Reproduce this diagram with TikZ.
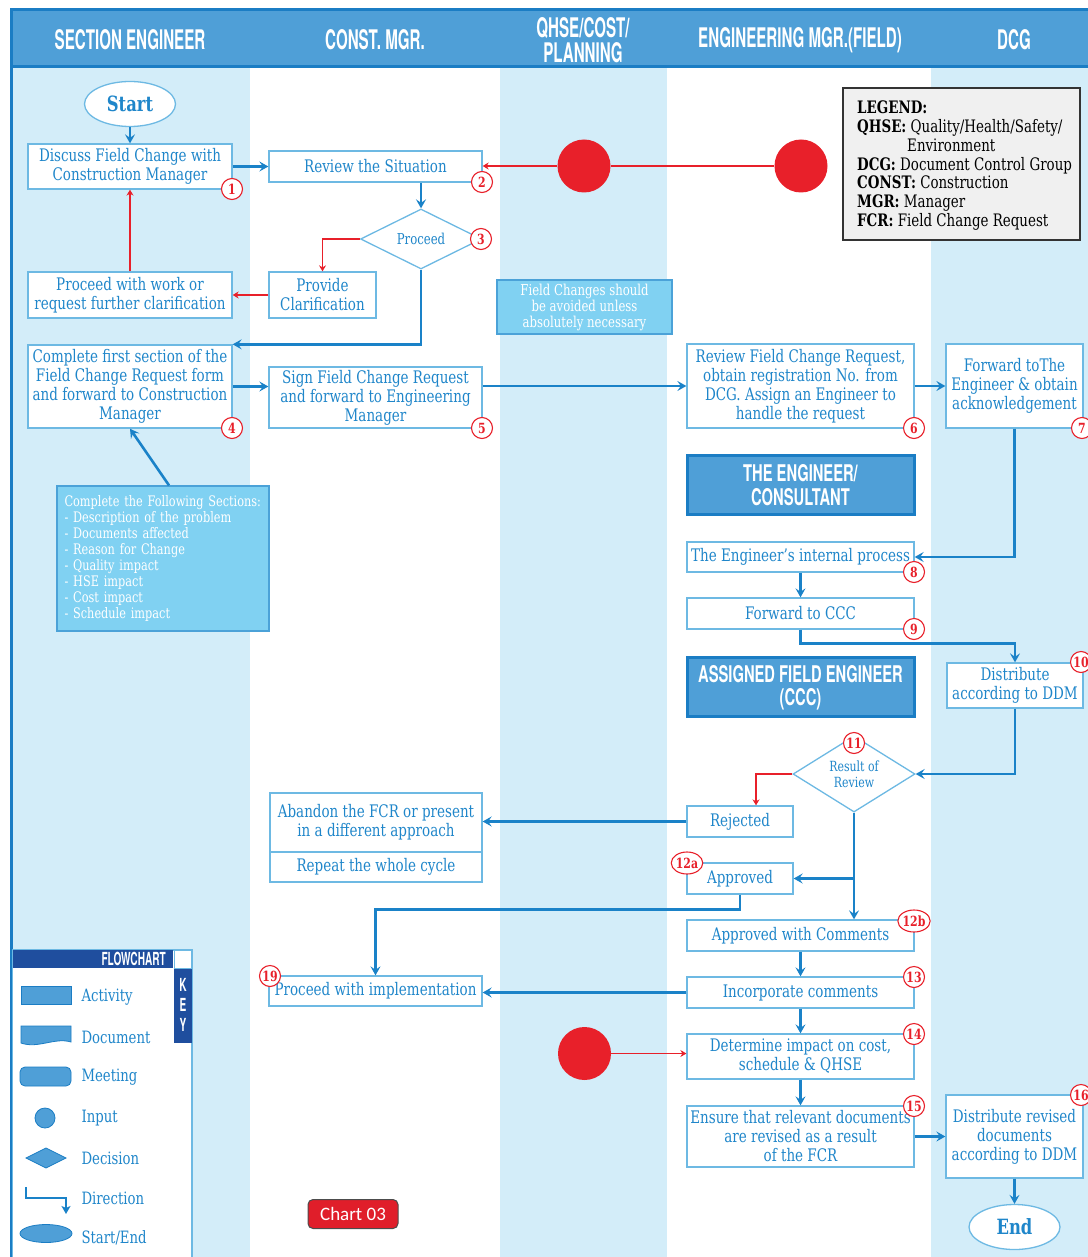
\documentclass[tikz,border=0pt]{standalone}
\usepackage{fontspec}
\usetikzlibrary{arrows.meta,shapes.geometric,calc}
\setmainfont{DejaVu Serif}[FakeStretch=0.78]
\newfontfamily\hdrfont{TeX Gyre Heros}[FakeStretch=0.56]
\newfontfamily\hdbfont{TeX Gyre Heros}[FakeStretch=0.64]
\newfontfamily\chartfont{Carlito}
\definecolor{hdrblue}{HTML}{4F9FD7}
\definecolor{hdrline}{HTML}{1B7DC4}
\definecolor{lane}{HTML}{D3EDF9}
\definecolor{tblue}{HTML}{1F86CA}
\definecolor{bline}{HTML}{6DB9E3}
\definecolor{ablue}{HTML}{1A82C8}
\definecolor{fred}{HTML}{E8202A}
\definecolor{nfill}{HTML}{80D1F2}
\definecolor{nline}{HTML}{4BA2D8}
\definecolor{kdark}{HTML}{1F4E9E}
\definecolor{kshape}{HTML}{4F9FD7}
\definecolor{legfill}{HTML}{F0F0F0}
\definecolor{cred}{HTML}{E01E2A}
\newcommand\flowbox[7][]{\node[bx,#1,minimum width={#5-#3},minimum height={#6-#4}] (#2) at ({(#3+#5)/2},{(#4+#6)/2}) {#7};}
\tikzset{
 bx/.style={draw=bline, line width=1.3pt, fill=white, text=tblue, align=center, inner sep=1pt, font=\fontsize{17.3}{19}\selectfont},
 dia/.style={diamond, draw=bline, line width=1.3pt, fill=white, text=tblue, align=center, inner sep=0pt},
 num/.style={circle, draw=fred, line width=1.1pt, fill=white, text=fred, inner sep=0pt, minimum size=21pt, font=\bfseries\fontsize{14}{14}\selectfont},
 numw/.style={ellipse, draw=fred, line width=1.1pt, fill=white, text=fred, inner sep=0pt, minimum width=30pt, minimum height=22pt, font=\bfseries\fontsize{14}{14}\selectfont},
 conn/.style={draw=ablue, line width=2.6pt, -{Stealth[length=9pt,width=10pt,inset=3.5pt]}},
 rconn/.style={draw=fred, line width=1.8pt, -{Stealth[length=6pt,width=7pt,inset=2pt]}},
 redin/.style={circle, fill=fred, minimum size=53pt, inner sep=0pt},
 hd/.style={fill=hdrblue, draw=hdrline, line width=3pt, text=white, align=center, inner sep=0pt},
 hdl/.style={text=white, inner sep=0pt, font=\hdbfont\bfseries\fontsize{23}{23}\selectfont},
 htext/.style={text=white, align=center, inner sep=0pt, font=\hdrfont\bfseries\fontsize{27}{27}\selectfont},
 se/.style={ellipse, draw=bline, line width=1.3pt, fill=white, text=tblue, inner sep=0pt, minimum width=91pt, minimum height=45pt, font=\bfseries\fontsize{21}{21}\selectfont},
 nt/.style={fill=nfill, draw=nline, line width=1.3pt, text=white},
 kshp/.style={fill=kshape, draw=hdrline, line width=0.8pt},
 klab/.style={anchor=west, text=tblue, font=\fontsize{17}{17}\selectfont},
}
\begin{document}
\begin{tikzpicture}[x=1pt,y=-1pt]
\useasboundingbox (0,0) rectangle (1087,1257);
% lanes
\fill[lane] (12,68) rectangle (250,1262);
\fill[lane] (500,68) rectangle (667,1262);
\fill[lane] (931,68) rectangle (1090,1262);
% header
\fill[hdrblue] (10,10) rectangle (1090,68);
\draw[hdrline, line width=3pt] (10,10) -- (1090,10);
\draw[hdrline, line width=3pt] (10,67) -- (1090,67);
\draw[hdrline, line width=3pt] (11,9) -- (11,1262);
\node[htext] (h1) at (130,40) {SECTION ENGINEER};
\node[htext] (h2) at (375,40) {CONST. MGR.};
\node[htext] (h3a) at (583,28) {QHSE/COST/};
\node[htext] (h3b) at (583,53) {PLANNING};
\node[htext] (h4) at (800,40) {ENGINEERING MGR.(FIELD)};
\node[htext] (h5) at (1014,40) {DCG};

% legend
\node[draw=black!80, fill=legfill, line width=1.8pt, minimum width=237pt, minimum height=152pt] (leg) at (961.5,164) {};
\node[anchor=north west, align=left, inner sep=0pt, text=black, font=\fontsize{17.2}{18.7}\selectfont] (legt) at (857,101) {\textbf{LEGEND:}\\ \textbf{QHSE:} Quality/Health/Safety/\\ \hspace*{50pt}Environment\\ \textbf{DCG:} Document Control Group\\ \textbf{CONST:} Construction\\ \textbf{MGR:} Manager\\ \textbf{FCR:} Field Change Request};

% Section engineer lane
\node[se] (start) at (130,104) {Start};
\flowbox{b1}{28}{144}{232}{189}{Discuss Field Change with\\Construction Manager}
\flowbox{pww}{28}{272}{232}{318}{Proceed with work or\\request further clarification}
\flowbox{b4}{28}{345}{232}{428}{Complete first section of the\\Field Change Request form\\and forward to Construction\\Manager}
\node[nt, minimum width=212pt, minimum height=145pt, text width=197pt, inner xsep=7.5pt, align=left, font=\fontsize{14.5}{16}\selectfont] (sect) at (163,558.5) {Complete the Following Sections:\\- Description of the problem\\- Documents affected\\- Reason for Change\\- Quality impact\\- HSE impact\\- Cost impact\\- Schedule impact};

% Const mgr lane
\flowbox{b2}{269}{151}{482}{182}{Review the Situation}
\node[dia, minimum width=121pt, minimum height=59pt, font=\fontsize{15}{16}\selectfont] (d1) at (421,239) {Proceed};
\flowbox{prov}{269}{272}{376}{318}{Provide\\Clarification}
\flowbox{b5}{269}{367}{482}{428}{Sign Field Change Request\\and forward to Engineering\\Manager}
\flowbox{ab}{270}{793}{482}{852}{Abandon the FCR or present\\in a different approach}
\flowbox{rep}{270}{852}{482}{882}{Repeat the whole cycle}
\flowbox{pimpl}{269}{976}{482}{1006}{Proceed with implementation}

% QHSE lane
\node[nt, minimum width=175pt, minimum height=54pt, align=center, font=\fontsize{15}{16}\selectfont] (fcn) at (584.5,307) {Field Changes should\\be avoided unless\\absolutely necessary};
\node[redin] (rc1) at (584,166) {};
\node[redin] (rc2) at (801,166) {};
\node[redin] (rc3) at (584.5,1053.5) {};

% Engineering mgr lane
\flowbox{b6}{687}{344}{914}{428}{Review Field Change Request,\\obtain registration No. from\\DCG. Assign an Engineer to\\handle the request}
\node[hd, minimum width=227pt, minimum height=59pt] (hd1) at (800.5,485) {};
\node[hdl] (hd1a) at (800.5,473) {THE ENGINEER/};
\node[hdl] (hd1b) at (800.5,497.5) {CONSULTANT};
\flowbox{b8}{687}{542}{914}{572}{The Engineer’s internal process}
\flowbox{b9}{687}{598}{914}{629}{Forward to CCC}
\node[hd, minimum width=227pt, minimum height=59pt] (hd2) at (800.5,686.5) {};
\node[hdl] (hd2a) at (800.5,674.5) {ASSIGNED FIELD ENGINEER};
\node[hdl] (hd2b) at (800.5,699.5) {(CCC)};
\node[dia, minimum width=122pt, minimum height=58pt, font=\fontsize{14}{16}\selectfont] (d2) at (854,774) {Result of\\Review};
\flowbox{rej}{687}{806}{793}{837}{Rejected}
\flowbox{appr}{687}{863}{793}{894}{Approved}
\flowbox{awc}{687}{920}{914}{951}{Approved with Comments}
\flowbox{inc}{687}{977}{914}{1008}{Incorporate comments}
\flowbox{b14}{687}{1034}{914}{1079}{Determine impact on cost,\\schedule \& QHSE}
\flowbox{b15}{687}{1106}{914}{1167}{Ensure that relevant documents\\are revised as a result\\of the FCR}

% DCG lane
\flowbox{b7}{946}{344}{1083}{428}{Forward toThe\\Engineer \& obtain\\acknowledgement}
\flowbox{b10}{947}{663}{1083}{708}{Distribute\\according to DDM}
\flowbox{b16}{946}{1095}{1083}{1178}{Distribute revised\\documents\\according to DDM}
\node[se] (end) at (1014.5,1227) {End};

% connectors
\draw[conn] (start.south) -- (b1.north);
\draw[conn] (b1.east) -- (b1.east -| b2.west);
\draw[conn] (b2.south -| d1.north) -- (d1.north);
\draw[rconn] (d1.west) -| (prov.north);
\draw[rconn] (prov.west) -- (prov.west -| pww.east);
\draw[rconn] (pww.north) -- (b1.south);
\draw[conn] (d1.south) |- (b4.north east);
\draw[conn] (b4.east) -- (b4.east -| b5.west);
\draw[conn] (b5.east |- b6.west) -- (b6.west);
\draw[conn] (b6.east) -- (b6.east -| b7.west);
\draw[conn] ([xshift=6pt]sect.north) -- (b4.south);
\draw[fred, line width=1.8pt] (rc2.west) -- (rc1.east);
\draw[rconn] (rc1.west) -- (rc1.west -| b2.east);
\draw[conn] (b7.south) |- (b8.east);
\draw[conn] (b8.south) -- (b9.north);
\draw[conn] (b9.south) -- ++(0,14) -| (b10.north);
\draw[conn] (b10.south) |- (d2.east);
\draw[rconn] (d2.west) -| ([xshift=16pt]rej.north);
\draw[conn] (rej.west) -- (rej.west -| ab.east);
\draw[conn] (d2.south) -- (d2.south |- awc.north);
\draw[conn] (d2.south |- appr.east) -- (appr.east);
\draw[conn] (appr.south) -- ++(0,15) -| (pimpl.north);
\draw[conn] (awc.south) -- (inc.north);
\draw[conn] (inc.west) -- (inc.west -| pimpl.east);
\draw[conn] (inc.south) -- (b14.north);
\draw[rconn] (rc3.east) -- (rc3.east -| b14.west);
\draw[conn] (b14.south) -- (b15.north);
\draw[conn] (b15.east) -- (b15.east -| b16.west);
\draw[conn] (b16.south) -- (end.north);

% numbers
\node[num] (n1) at (232,189) {1};
\node[num] (n2) at (482,182) {2};
\node[num] (n3) at (481,239) {3};
\node[num] (n4) at (232,428) {4};
\node[num] (n5) at (482,428) {5};
\node[num] (n6) at (914,428) {6};
\node[num] (n7) at (1082,428) {7};
\node[num] (n8) at (914,572) {8};
\node[num] (n9) at (914,629) {9};
\node[num] (n10) at (1081,662) {10};
\node[num] (n11) at (854,743) {11};
\node[numw] (n12a) at (687,863) {12a};
\node[numw] (n12b) at (914,921) {12b};
\node[num] (n13) at (914,977) {13};
\node[num] (n14) at (914,1034) {14};
\node[num] (n15) at (914,1106) {15};
\node[num] (n16) at (1081,1095) {16};
\node[num] (n19) at (270,976) {19};

% key
\draw[bline, line width=1.3pt, fill=white] (12.5,950) rectangle (192,1262);
\fill[kdark] (13,950) rectangle (173,968);
\node[anchor=east, text=white, inner sep=0pt, font=\hdrfont\bfseries\fontsize{18}{18}\selectfont] (kfc) at (166,959) {FLOWCHART};
\draw[bline, line width=1pt, fill=white] (174,950) rectangle (191.5,968);
\fill[kdark] (174,969) rectangle (192,1043);
\node[text=white, inner sep=0pt, font=\hdrfont\bfseries\fontsize{18}{18}\selectfont] (kk) at (183,985) {K};
\node[text=white, inner sep=0pt, font=\hdrfont\bfseries\fontsize{18}{18}\selectfont] (ke) at (183,1005) {E};
\node[text=white, inner sep=0pt, font=\hdrfont\bfseries\fontsize{18}{18}\selectfont] (ky) at (183,1025) {Y};
\fill[kshp] (21,986) rectangle (71,1004);
\node[klab] (k1) at (78,997) {Activity};
\fill[kshp] (21,1026) -- (71,1026) -- (71,1042) .. controls (55,1037) and (38,1049) .. (21,1043) -- cycle;
\node[klab] (k2) at (78,1037) {Document};
\fill[kshp, rounded corners=5pt] (20,1067) rectangle (71,1086);
\node[klab] (k3) at (78,1077) {Meeting};
\fill[kshp] (45,1118) circle (10);
\node[klab] (k4) at (78,1118) {Input};
\fill[kshp] (26,1158) -- (46,1148) -- (66,1158) -- (46,1168) -- cycle;
\node[klab] (k5) at (78,1158) {Decision};
\draw[ablue, line width=2pt, -{Stealth[length=8pt,width=9pt,inset=2pt]}] (26,1187) -- (26,1198) -- (66,1198) -- (66,1214);
\node[klab] (k6) at (78,1198) {Direction};
\fill[kshp] (46,1233.5) ellipse (26 and 9);
\node[klab] (k7) at (78,1238) {Start/End};

% chart label
\node[rounded corners=5pt, fill=cred, draw=black!70, line width=1pt, text=white, minimum width=90pt, minimum height=29pt, inner sep=0pt, font=\chartfont\fontsize{19}{19}\selectfont] (chart) at (353,1214) {Chart 03};
\end{tikzpicture}
\end{document}
